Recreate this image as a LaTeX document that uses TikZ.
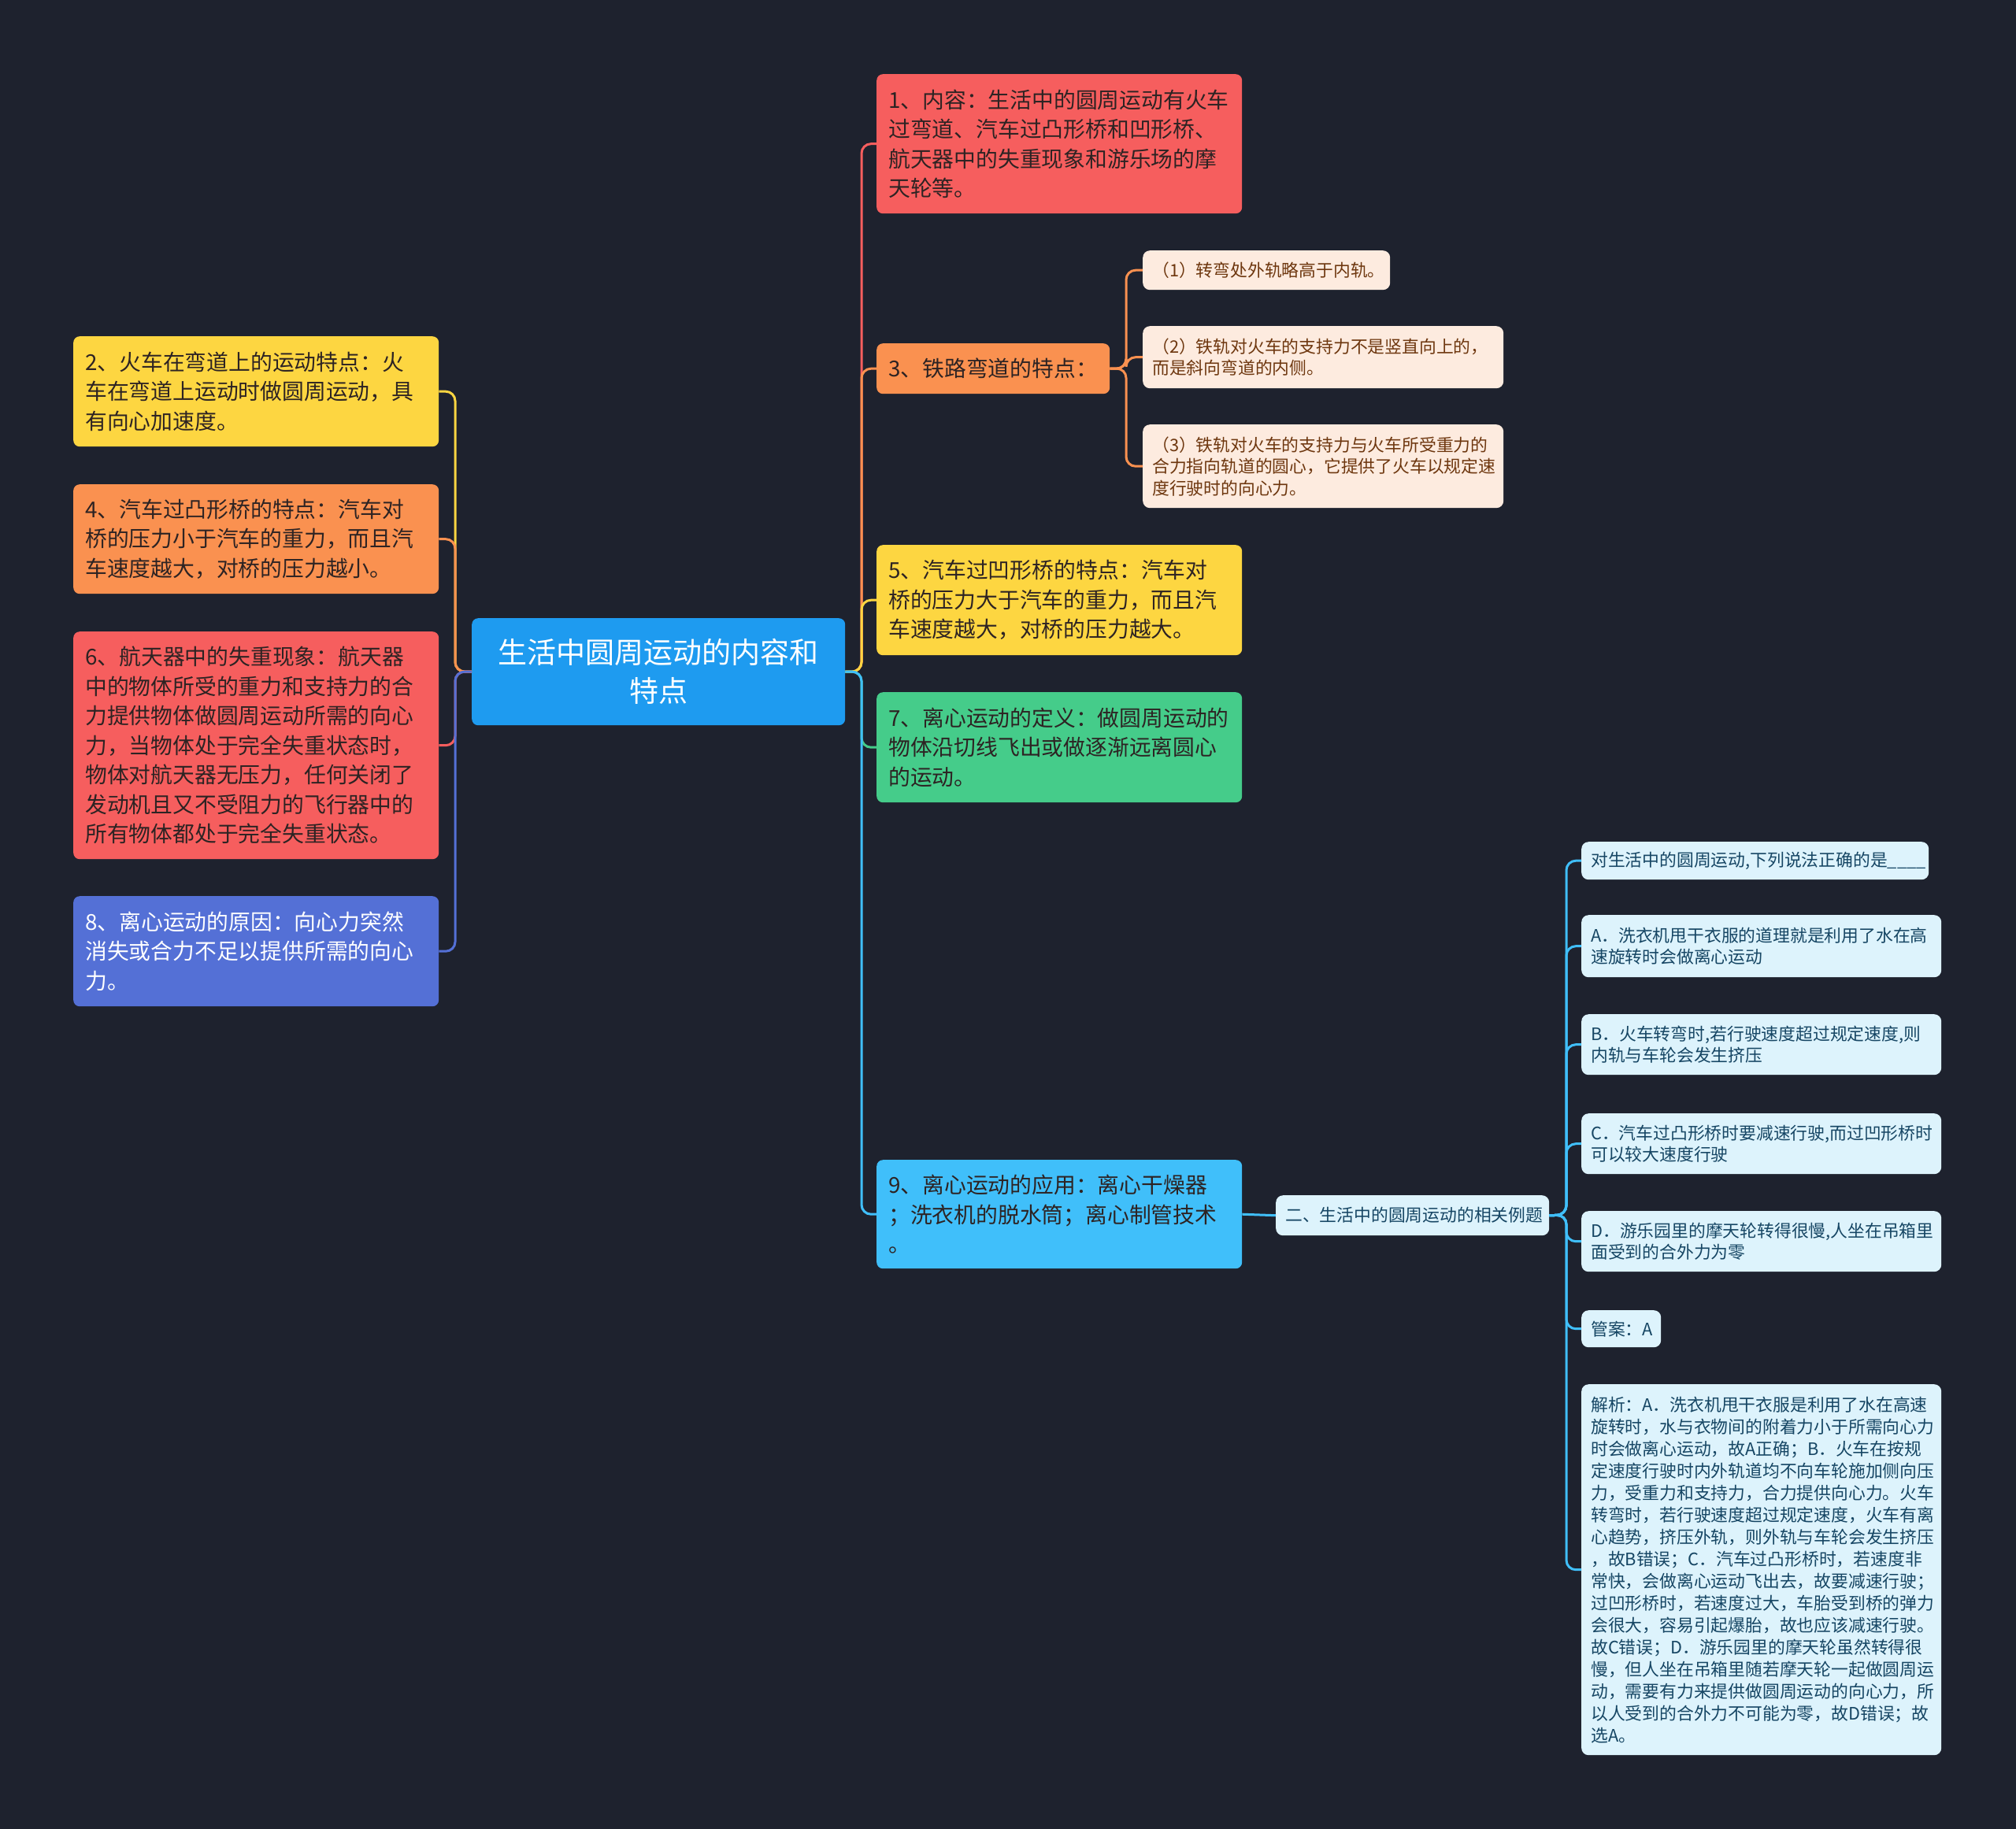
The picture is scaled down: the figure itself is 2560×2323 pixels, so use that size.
\documentclass[tikz,border=0pt]{standalone}
\usepackage{fontspec}
\setmainfont{Noto Sans CJK SC}
\definecolor{bg}{RGB}{30,34,46}
\definecolor{cRoot}{RGB}{30,155,240}
\definecolor{cRed}{RGB}{246,94,94}
\definecolor{cOra}{RGB}{250,145,80}
\definecolor{cYel}{RGB}{253,214,65}
\definecolor{cGrn}{RGB}{69,204,138}
\definecolor{cBlu}{RGB}{64,191,250}
\definecolor{cPur}{RGB}{84,112,214}
\definecolor{cPea}{RGB}{253,235,223}
\definecolor{cPale}{RGB}{221,243,252}
\definecolor{tDark}{RGB}{45,35,35}
\definecolor{tBrown}{RGB}{110,55,15}
\definecolor{tTeal}{RGB}{22,70,100}
\tikzset{
  box/.style={anchor=north west, inner ysep=0pt, align=left},
  mainbox/.style={box, rounded corners=8pt, inner xsep=15pt, text=tDark,
    font=\fontsize{27.8}{37.5}\selectfont},
  smallbox/.style={box, rounded corners=9pt, inner xsep=12pt,
    font=\fontsize{21.8}{27.5}\selectfont},
  conn/.style={line width=3pt, rounded corners=12pt},
}
\begin{document}
\begin{tikzpicture}[x=1pt,y=-1pt]
\fill[bg] (0,0) rectangle (2560,2323);
\useasboundingbox (0,0) rectangle (2560,2323);

% root
\node[box, anchor=north west, fill=cRoot, rounded corners=8pt, text=white, align=center,
  minimum width=474pt, minimum height=136pt, text width=430pt, inner xsep=22pt,
  font=\fontsize{37}{49}\selectfont] (root) at (599,785) {生活中圆周运动的内容和\\特点};

% left nodes
\node[mainbox, fill=cYel, minimum width=464pt, minimum height=140pt, text width=434pt] (n2) at (93,427)
 {2、火车在弯道上的运动特点：火\\车在弯道上运动时做圆周运动，具\\有向心加速度。};
\node[mainbox, fill=cOra, minimum width=464pt, minimum height=139pt, text width=434pt] (n4) at (93,615)
 {4、汽车过凸形桥的特点：汽车对\\桥的压力小于汽车的重力，而且汽\\车速度越大，对桥的压力越小。};
\node[mainbox, fill=cRed, minimum width=464pt, minimum height=289pt, text width=434pt] (n6) at (93,802)
 {6、航天器中的失重现象：航天器\\中的物体所受的重力和支持力的合\\力提供物体做圆周运动所需的向心\\力，当物体处于完全失重状态时，\\物体对航天器无压力，任何关闭了\\发动机且又不受阻力的飞行器中的\\所有物体都处于完全失重状态。};
\node[mainbox, fill=cPur, text=white, minimum width=464pt, minimum height=140pt, text width=434pt] (n8) at (93,1138)
 {8、离心运动的原因：向心力突然\\消失或合力不足以提供所需的向心\\力。};

% right nodes
\node[mainbox, fill=cRed, minimum width=464pt, minimum height=177pt, text width=434pt] (n1) at (1113,94)
 {1、内容：生活中的圆周运动有火车\\过弯道、汽车过凸形桥和凹形桥、\\航天器中的失重现象和游乐场的摩\\天轮等。};
\node[mainbox, fill=cOra, minimum width=296pt, minimum height=64pt, text width=266pt] (n3) at (1113,436)
 {3、铁路弯道的特点：};
\node[mainbox, fill=cYel, minimum width=464pt, minimum height=140pt, text width=434pt] (n5) at (1113,692)
 {5、汽车过凹形桥的特点：汽车对\\桥的压力大于汽车的重力，而且汽\\车速度越大，对桥的压力越大。};
\node[mainbox, fill=cGrn, minimum width=464pt, minimum height=140pt, text width=434pt] (n7) at (1113,879)
 {7、离心运动的定义：做圆周运动的\\物体沿切线飞出或做逐渐远离圆心\\的运动。};
\node[mainbox, fill=cBlu, minimum width=464pt, minimum height=138pt, text width=434pt] (n9) at (1113,1473)
 {9、离心运动的应用：离心干燥器\\；洗衣机的脱水筒；离心制管技术\\。};

% sub nodes of 3
\node[smallbox, fill=cPea, text=tBrown, minimum width=314pt, minimum height=50pt, text width=290pt] (s1) at (1451,318)
 {（1）转弯处外轨略高于内轨。};
\node[smallbox, fill=cPea, text=tBrown, minimum width=458pt, minimum height=79pt, text width=434pt] (s2) at (1451,414)
 {（2）铁轨对火车的支持力不是竖直向上的，\\而是斜向弯道的内侧。};
\node[smallbox, fill=cPea, text=tBrown, minimum width=458pt, minimum height=106pt, text width=434pt] (s3) at (1451,539)
 {（3）铁轨对火车的支持力与火车所受重力的\\合力指向轨道的圆心，它提供了火车以规定速\\度行驶时的向心力。};

% example branch
\node[smallbox, fill=cPale, text=tTeal, minimum width=347pt, minimum height=51pt, text width=323pt] (er) at (1620,1518)
 {二、生活中的圆周运动的相关例题};
\node[smallbox, fill=cPale, text=tTeal, minimum width=441pt, minimum height=48pt, text width=417pt] (q) at (2008,1069)
 {对生活中的圆周运动,下列说法正确的是\_\_\_\_};
\node[smallbox, fill=cPale, text=tTeal, minimum width=457pt, minimum height=79pt, text width=433pt] (oa) at (2008,1162)
 {A．洗衣机甩干衣服的道理就是利用了水在高\\速旋转时会做离心运动};
\node[smallbox, fill=cPale, text=tTeal, minimum width=457pt, minimum height=77pt, text width=433pt] (ob) at (2008,1288)
 {B．火车转弯时,若行驶速度超过规定速度,则\\内轨与车轮会发生挤压};
\node[smallbox, fill=cPale, text=tTeal, minimum width=457pt, minimum height=77pt, text width=433pt] (oc) at (2008,1414)
 {C．汽车过凸形桥时要减速行驶,而过凹形桥时\\可以较大速度行驶};
\node[smallbox, fill=cPale, text=tTeal, minimum width=457pt, minimum height=77pt, text width=433pt] (od) at (2008,1538)
 {D．游乐园里的摩天轮转得很慢,人坐在吊箱里\\面受到的合外力为零};
\node[smallbox, fill=cPale, text=tTeal, minimum width=101pt, minimum height=47pt, text width=77pt] (ans) at (2008,1664)
 {管案：A};
\node[smallbox, fill=cPale, text=tTeal, minimum width=457pt, minimum height=471pt, text width=433pt,
  font=\fontsize{21.8}{28}\selectfont] (ana) at (2008,1758)
 {解析：A．洗衣机甩干衣服是利用了水在高速\\旋转时，水与衣物间的附着力小于所需向心力\\时会做离心运动，故A正确；B．火车在按规\\定速度行驶时内外轨道均不向车轮施加侧向压\\力，受重力和支持力，合力提供向心力。火车\\转弯时，若行驶速度超过规定速度，火车有离\\心趋势，挤压外轨，则外轨与车轮会发生挤压\\，故B错误；C．汽车过凸形桥时，若速度非\\常快，会做离心运动飞出去，故要减速行驶；\\过凹形桥时，若速度过大，车胎受到桥的弹力\\会很大，容易引起爆胎，故也应该减速行驶。\\故C错误；D．游乐园里的摩天轮虽然转得很\\慢，但人坐在吊箱里随若摩天轮一起做圆周运\\动，需要有力来提供做圆周运动的向心力，所\\以人受到的合外力不可能为零，故D错误；故\\选A。};

% connectors
\coordinate (lj) at (578,853);
\coordinate (rj) at (1094,853);
\coordinate (sj) at (1430,468);
\coordinate (ej) at (1989,1543);
\draw[conn, cYel] (root.west) -- (lj) |- (n2.east);
\draw[conn, cOra] (root.west) -- (lj) |- (n4.east);
\draw[conn, cRed] (root.west) -- (lj) |- (n6.east);
\draw[conn, cPur] (root.west) -- (lj) |- (n8.east);
\draw[conn, cRed] (root.east) -- (rj) |- (n1.west);
\draw[conn, cOra] (root.east) -- (rj) |- (n3.west);
\draw[conn, cYel] (root.east) -- (rj) |- (n5.west);
\draw[conn, cGrn] (root.east) -- (rj) |- (n7.west);
\draw[conn, cBlu] (root.east) -- (rj) |- (n9.west);
\draw[conn, cOra] (n3.east) -- (sj) |- (s1.west);
\draw[conn, cOra] (n3.east) -- (sj) |- (s2.west);
\draw[conn, cOra] (n3.east) -- (sj) |- (s3.west);
\draw[conn, cBlu] (n9.east) -- (er.west);
\draw[conn, cBlu] (er.east) -- (ej) |- (q.west);
\draw[conn, cBlu] (er.east) -- (ej) |- (oa.west);
\draw[conn, cBlu] (er.east) -- (ej) |- (ob.west);
\draw[conn, cBlu] (er.east) -- (ej) |- (oc.west);
\draw[conn, cBlu] (er.east) -- (ej) |- (od.west);
\draw[conn, cBlu] (er.east) -- (ej) |- (ans.west);
\draw[conn, cBlu] (er.east) -- (ej) |- (ana.west);
\end{tikzpicture}
\end{document}
